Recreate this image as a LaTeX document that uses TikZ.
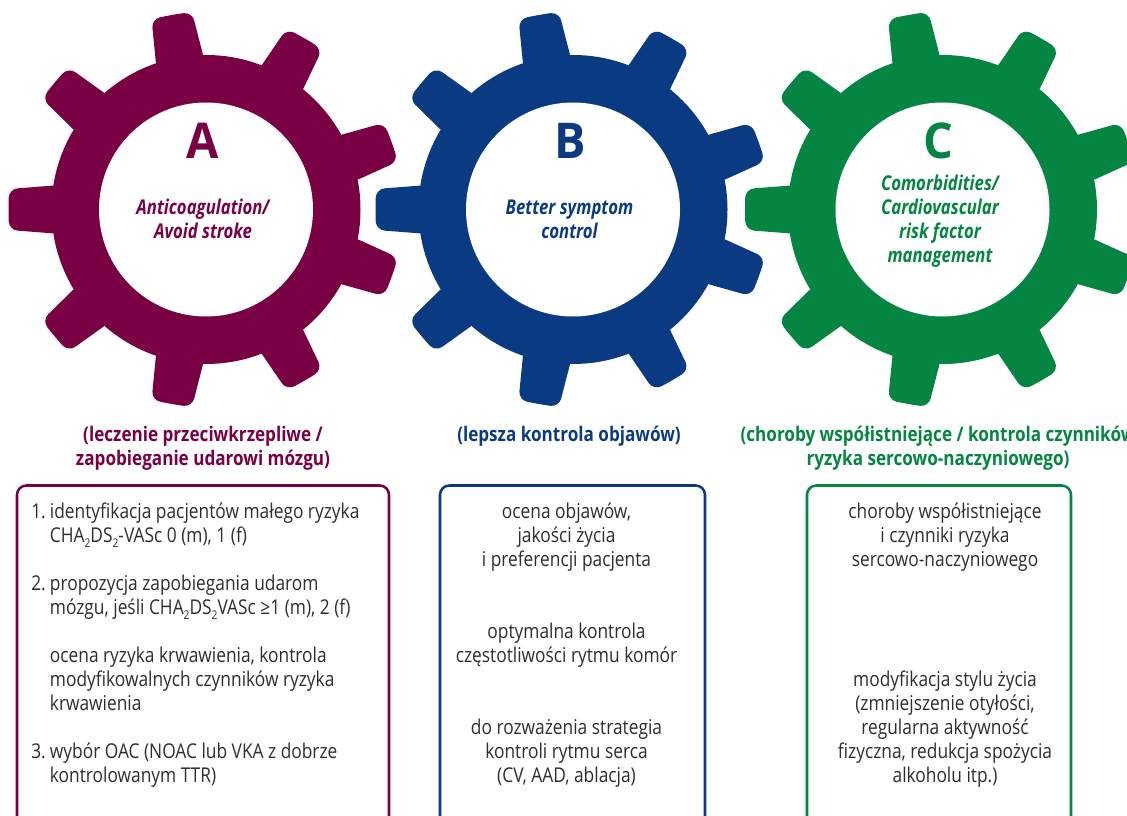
\documentclass[tikz,border=0pt]{standalone}
\usepackage{fontspec}
\setmainfont{Open Sans}[FakeStretch=0.85,BoldItalicFeatures={FakeStretch=0.82}]
\newfontfamily\letterfont{Open Sans}[FakeStretch=0.95]
\definecolor{cA}{HTML}{7A0044}
\definecolor{cB}{HTML}{0A3B82}
\definecolor{cC}{HTML}{048541}
\definecolor{txt}{HTML}{2E2E2E}
\newcommand{\subtwo}{\raisebox{-0.28em}{\fontsize{9}{9}\selectfont 2}}
\newcommand{\numitem}[1]{\makebox[14pt][l]{#1}}
\newcommand{\gearshape}[3]{%
  \begin{scope}[shift={(#1,#2)}]
    \fill[#3] (0,0) circle[radius=154.5];
    \foreach \a in {20,60,...,340} {
      \fill[#3,rotate=\a,rounded corners=6.5pt] (145,-24.5) -- (197,-20.5) -- (197.6,0) -- (197,20.5) -- (145,24.5) -- cycle;
    }
    \fill[white] (0,0) circle[radius=107];
  \end{scope}}
\tikzset{
  letterlabel/.style={font=\letterfont\bfseries\fontsize{37}{37}\selectfont,anchor=base,inner sep=0},
  gearlabel/.style={font=\bfseries\itshape\fontsize{15.3}{18}\selectfont,align=center,anchor=north,inner sep=0},
  heading/.style={font=\bfseries\fontsize{15.1}{18}\selectfont,align=center,anchor=north,inner sep=0},
  bodytext/.style={font=\fontsize{15.3}{18}\selectfont,text=txt,anchor=north,inner sep=0},
  panel/.style={draw,line width=1.9pt,rounded corners=7pt,fill=white}
}
\begin{document}
\begin{tikzpicture}[x=0.75pt,y=-0.75pt]
\useasboundingbox (0,0) rectangle (1127,816);
\clip (0,0) rectangle (1127,816);
\gearshape{206}{209.5}{cA}
\gearshape{573}{209.5}{cB}
\gearshape{942.5}{209.5}{cC}

\node[letterlabel,text=cA] (la) at (202.5,159) {A};
\node[letterlabel,text=cB] (lb) at (570,159) {B};
\node[letterlabel,text=cC] (lc) at (938,159) {C};

\node[gearlabel,text=cA] (ga) at (203,197.2) {\strut Anticoagulation/\\Avoid stroke};
\node[gearlabel,text=cB] (gb) at (569.5,197.2) {\strut Better symptom\\control};
\node[gearlabel,text=cC] (gc) at (940,173.2) {\strut Comorbidities/\\Cardiovascular\\risk factor\\management};

\node[heading,text=cA] (ha) at (203,424) {\strut (leczenie przeciwkrzepliwe /\\zapobieganie udarowi mózgu)};
\node[heading,text=cB] (hb) at (569,424) {\strut (lepsza kontrola objawów)};
\node[heading,text=cC] (hc) at (938,424) {\strut (choroby współistniejące / kontrola czynników\\ryzyka sercowo-naczyniowego)};

\draw[panel,draw=cA] (17,485.5) rectangle (389,840);
\draw[panel,draw=cB] (440,485.5) rectangle (705,840);
\draw[panel,draw=cC] (807,485.5) rectangle (1071,840);

\node[bodytext,align=left,anchor=north west] (ta) at (31,501.2) {\strut\numitem{1.}identyfikacja pacjentów małego ryzyka\\
\numitem{}CHA\subtwo DS\subtwo-VASc 0 (m), 1 (f)\\[18pt]
\numitem{2.}propozycja zapobiegania udarom\\
\numitem{}mózgu, jeśli CHA\subtwo DS\subtwo VASc ≥1 (m), 2 (f)\\[18pt]
\numitem{}ocena ryzyka krwawienia, kontrola\\
\numitem{}modyfikowalnych czynników ryzyka\\
\numitem{}krwawienia\\[18pt]
\numitem{3.}wybór OAC (NOAC lub VKA z dobrze\\
\numitem{}kontrolowanym TTR)};

\node[bodytext,align=center] (tb) at (566.5,501.8) {\strut ocena objawów,\\jakości życia\\i preferencji pacjenta\\[36pt]
optymalna kontrola\\częstotliwości rytmu komór\\[36pt]
do rozważenia strategia\\kontroli rytmu serca\\(CV, AAD, ablacja)};

\node[bodytext,align=center] (tc) at (945,501.8) {\strut choroby współistniejące\\i czynniki ryzyka\\sercowo-naczyniowego\\[72pt]
modyfikacja stylu życia\\(zmniejszenie otyłości,\\regularna aktywność\\fizyczna, redukcja spożycia\\alkoholu itp.)};
\end{tikzpicture}
\end{document}
